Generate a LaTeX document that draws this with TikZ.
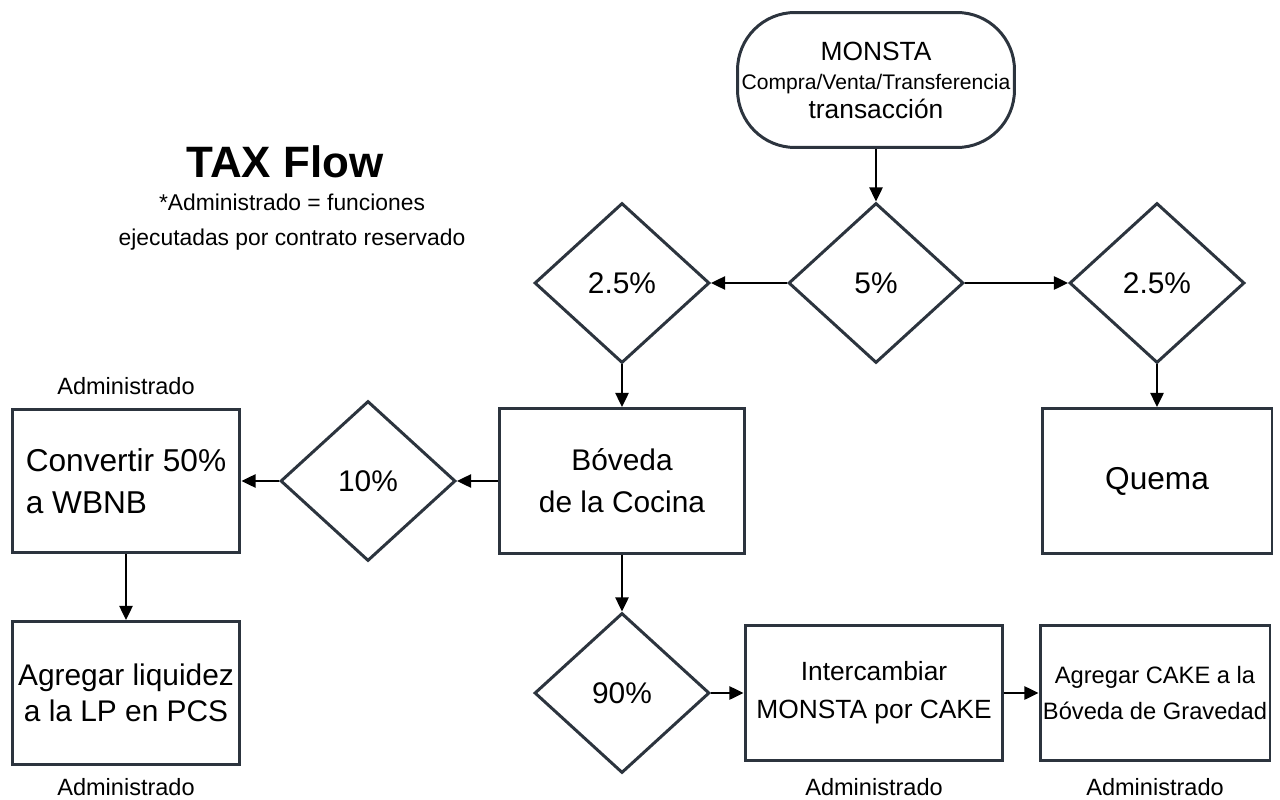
\documentclass[tikz,border=0pt]{standalone}
\usepackage{fontspec}
\setmainfont{Liberation Sans}
\usetikzlibrary{shapes.geometric,arrows.meta}
\definecolor{edgegray}{RGB}{44,52,62}

\begin{document}
\begin{tikzpicture}[x=0.02cm,y=-0.02cm,
        >={Triangle[length=8pt,width=7.5pt]},
        link/.style={->,line width=1.1pt},
        pct/.style={diamond,draw=edgegray,line width=1.7pt,minimum width=3.5cm,minimum height=3.2cm,inner sep=0pt,font=\fontsize{17pt}{20pt}\selectfont},
        box/.style={rectangle,draw=edgegray,line width=1.7pt,inner sep=0pt,align=center},
        admin/.style={font=\fontsize{13.4pt}{16pt}\selectfont}]
            \useasboundingbox (0,0) rectangle (1280,800);
            % titulo
            \node[font=\bfseries\fontsize{25pt}{30pt}\selectfont] at (285,162) (title) {TAX Flow};
            \node[font=\fontsize{13pt}{20pt}\selectfont,align=center] at (292,222) (note) {*Administrado = funciones\\ejecutadas por contrato reservado};
            % nodos
            \node[box,rounded corners=1.15cm,minimum width=5.54cm,minimum height=2.7cm,font=\fontsize{15pt}{19pt}\selectfont] at (876,80) (tx) {MONSTA\\[-2pt]{\fontsize{12pt}{14pt}\selectfont Compra/Venta/Transferencia}\\[-3pt]transacción};
            \node[pct] at (876,283) (p5) {5\%};
            \node[pct] at (622,283) (pl) {2.5\%};
            \node[pct] at (1157,283) (pr) {2.5\%};
            \node[box,minimum width=4.9cm,minimum height=2.9cm,font=\fontsize{17pt}{24pt}\selectfont] at (622,481) (boveda) {Bóveda\\de la Cocina};
            \node[box,minimum width=4.6cm,minimum height=2.9cm,font=\fontsize{18pt}{24pt}\selectfont] at (1157,481) (quema) {Quema};
            \node[pct] at (368,481) (p10) {10\%};
            \node[box,align=left,minimum width=4.56cm,minimum height=2.86cm,font=\fontsize{18pt}{24pt}\selectfont] at (126,481) (conv) {Convertir 50\%\\ a WBNB};
            \node[box,minimum width=4.56cm,minimum height=2.86cm,font=\fontsize{17pt}{20.5pt}\selectfont] at (126,693) (liq) {Agregar liquidez\\a la LP en PCS};
            \node[pct] at (622,693) (p90) {90\%};
            \node[box,minimum width=5.16cm,minimum height=2.7cm,font=\fontsize{15pt}{21.5pt}\selectfont] at (874,693) (swap) {Intercambiar\\MONSTA por CAKE};
            \node[box,minimum width=4.6cm,minimum height=2.7cm,font=\fontsize{13.5pt}{20pt}\selectfont] at (1155,693) (cake) {Agregar CAKE a la\\Bóveda de Gravedad};
            % etiquetas
            \node[admin] at (126,386) (a1) {Administrado};
            \node[admin] at (126,787) (a2) {Administrado};
            \node[admin] at (874,787) (a3) {Administrado};
            \node[admin] at (1155,787) (a4) {Administrado};
            % flechas
            \draw[link] (tx) to (p5);
            \draw[link] (p5) to (pl);
            \draw[link] (p5) to (pr);
            \draw[link] (pl) to (boveda);
            \draw[link] (pr) to (quema);
            \draw[link] (boveda) to (p10);
            \draw[link] (p10) to (conv);
            \draw[link] (conv) to (liq);
            \draw[link] (boveda) to (p90);
            \draw[link] (p90) to (swap);
            \draw[link] (swap) to (cake);
        \end{tikzpicture}
\end{document}
